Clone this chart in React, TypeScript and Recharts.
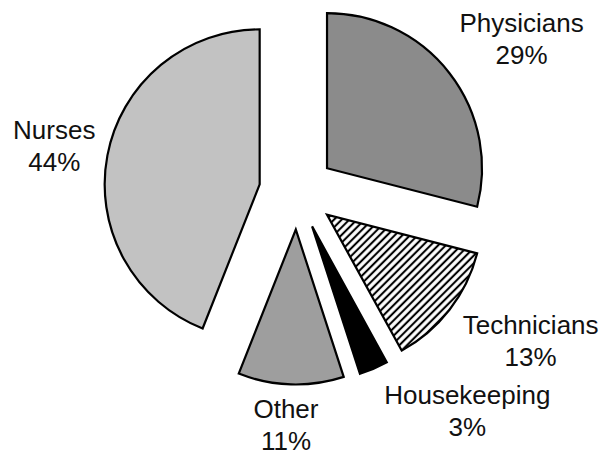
import React from 'react';
import { PieChart, Pie, Sector } from 'recharts';

const categories = ['Physicians', 'Technicians', 'Housekeeping', 'Other', 'Nurses'];
const shares = [29, 13, 3, 11, 44];

const data = categories.map((name, i) => ({ name, value: shares[i] }));

const FILLS = ['#8b8b8b', 'url(#hatch)', '#000000', '#9e9e9e', '#c2c2c2'];
const EXPLODE = 38;
const LABEL_RADIUS = 240;
const LABEL_NUDGE: [number, number][] = [
  [35, 4],
  [44, 11],
  [75, 8],
  [-3.5, 3],
  [-7, 8],
];
const RAD = Math.PI / 180;
const FONT = '"Liberation Sans", Arial, sans-serif';

function renderSlice(props: any) {
  const { cx, cy, innerRadius, outerRadius, startAngle, endAngle, midAngle, index, percent } = props;
  const ux = Math.cos(-midAngle * RAD);
  const uy = Math.sin(-midAngle * RAD);
  const lx = cx + LABEL_RADIUS * ux + LABEL_NUDGE[index][0];
  const ly = cy + LABEL_RADIUS * uy + LABEL_NUDGE[index][1];
  return (
    <g key={`slice-${index}`}>
      <Sector
        cx={cx + EXPLODE * ux}
        cy={cy + EXPLODE * uy}
        innerRadius={innerRadius}
        outerRadius={outerRadius}
        startAngle={startAngle}
        endAngle={endAngle}
        fill={FILLS[index]}
        stroke="#000"
        strokeWidth={2.2}
        strokeLinejoin="miter"
      />
      <text x={lx} y={ly - 16} textAnchor="middle" fontFamily={FONT} fontSize={26} fill="#111">
        {categories[index]}
      </text>
      <text x={lx} y={ly + 16} textAnchor="middle" fontFamily={FONT} fontSize={26} fill="#111">
        {`${Math.round(percent * 100)}%`}
      </text>
    </g>
  );
}

export default function App() {
  return (
    <div style={{ position: 'absolute', left: 0, top: 0, background: '#fff' }}>
      <PieChart width={614} height={457} margin={{ top: 0, right: 0, bottom: 0, left: 0 }}>
        <defs>
          <pattern id="hatch" patternUnits="userSpaceOnUse" width={5.4} height={5.4} patternTransform="rotate(45)">
            <rect width={5.4} height={5.4} fill="#fff" />
            <line x1={2.7} y1={0} x2={2.7} y2={5.4} stroke="#000" strokeWidth={2.1} />
          </pattern>
        </defs>
        <Pie
          data={data}
          dataKey="value"
          nameKey="name"
          cx={297}
          cy={191.5}
          innerRadius={0}
          outerRadius={155}
          startAngle={90}
          endAngle={-270}
          fill="none"
          stroke="none"
          label={renderSlice}
          labelLine={false}
          isAnimationActive={false}
        />
      </PieChart>
    </div>
  );
}
